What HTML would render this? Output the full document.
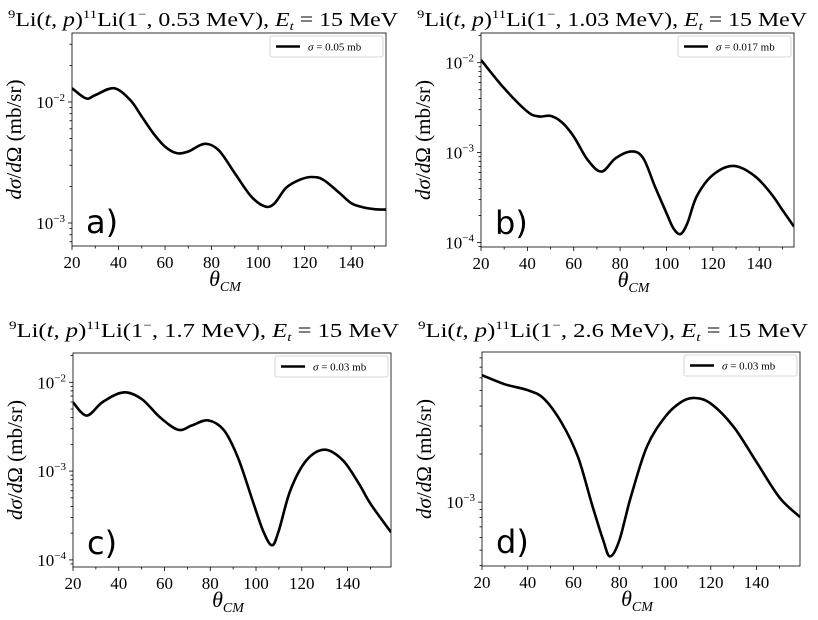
<!DOCTYPE html>
<html><head><meta charset="utf-8"><style>
body{margin:0;background:#fff}
svg{display:block}
text{font-family:"Liberation Serif",serif;fill:#000}
</style></head><body>
<svg id="fig" width="818" height="620" viewBox="0 0 818 620" xmlns="http://www.w3.org/2000/svg"></svg>
<script>
// Panel a data
const thetaA = [20,26,30,38,45,50,55,60,65,70,77,83,90,97,103,107,112,118,123,128,135,140,145,150,155];
const sigmaA = [0.0130,0.0107,0.0114,0.0130,0.0104,0.00757,0.0055,0.00428,0.00378,0.0039,0.00451,0.0040,0.00258,0.00166,0.00137,0.00145,0.00195,0.00228,0.0024,0.00228,0.00177,0.00146,0.00135,0.0013,0.00129];
// Panel b data
const thetaB = [20,30,40,45,50,55,60,66,72,78,85,90,95,100,103,106,109,113,120,129,138,145,150,155];
const sigmaB = [0.0107,0.00519,0.00286,0.00252,0.00256,0.00216,0.00151,0.00083,0.000615,0.000865,0.00103,0.000865,0.00042,0.000212,0.000144,0.000124,0.000163,0.000324,0.000565,0.000711,0.00055,0.000353,0.00023,0.00015];
// Panel c data
const thetaC = [20,26,33,42,50,58,66,72,79,86,92,98,103,107,110,115,122,130,138,145,150,159];
const sigmaC = [0.00595,0.00422,0.0060,0.0077,0.0065,0.00404,0.00292,0.00327,0.00372,0.00288,0.00144,0.00051,0.000215,0.000146,0.000215,0.000605,0.00132,0.00174,0.00132,0.00072,0.00043,0.000205];
// Panel d data
const thetaD = [20,30,40,47,55,62,68,73,76,80,85,92,100,107,113,120,130,140,150,159];
const sigmaD = [0.00623,0.00547,0.00502,0.00445,0.0031,0.00191,0.000976,0.000575,0.000457,0.000575,0.00107,0.00221,0.00341,0.00423,0.00449,0.00414,0.00296,0.00178,0.00107,0.000806];
// Tick values
const xTicks = [20,40,60,80,100,120,140];
const titlesE = ["0.53","1.03","1.7","2.6"];
const legendSig = ["0.05","0.017","0.03","0.03"];
const letters = ["a)","b)","c)","d)"];

const NS="http://www.w3.org/2000/svg";
const fig=document.getElementById('fig');
function mk(tag,attrs,parent){const e=document.createElementNS(NS,tag);for(const k in attrs)e.setAttribute(k,attrs[k]);(parent||fig).appendChild(e);return e;}

const panels=[
 {x0:72,x1:386,y0:33,y1:246,xmin:20,xmax:155,lmin:-3.19,lmax:-1.43,t:thetaA,s:sigmaA,dec:[-3,-2],tb:26},
 {x0:481,x1:794,y0:33,y1:247,xmin:20,xmax:155,lmin:-4.05,lmax:-1.67,t:thetaB,s:sigmaB,dec:[-4,-3,-2],tb:26},
 {x0:73,x1:391,y0:353,y1:567,xmin:20,xmax:159,lmin:-4.08,lmax:-1.67,t:thetaC,s:sigmaC,dec:[-4,-3,-2],tb:337},
 {x0:482,x1:800,y0:352,y1:566,xmin:20,xmax:159,lmin:-3.40,lmax:-2.06,t:thetaD,s:sigmaD,dec:[-3],tb:337}
];
const names=['a','b','c','d'];
panels.forEach((p,i)=>{
  const g=mk('g',{});
  
  
  const X=v=>p.x0+(v-p.xmin)/(p.xmax-p.xmin)*(p.x1-p.x0);
  const Y=v=>p.y1-(Math.log10(v)-p.lmin)/(p.lmax-p.lmin)*(p.y1-p.y0);
  const cx=(p.x0+p.x1)/2;
  // title
  const t=mk('text',{x:p.x0-64,y:p.tb,'font-size':19.5,textLength:390,lengthAdjust:'spacingAndGlyphs'},g);
  
  
  t.innerHTML='<tspan font-size="12" dy="-8">9</tspan><tspan dy="8">Li(</tspan><tspan font-style="italic">t, p</tspan><tspan>)</tspan><tspan font-size="12" dy="-8">11</tspan><tspan dy="8">Li(1</tspan><tspan font-size="12" dy="-8">−</tspan><tspan dy="8">, '+titlesE[i]+' MeV), </tspan><tspan font-style="italic">E</tspan><tspan font-style="italic" font-size="12" dy="4">t</tspan><tspan dy="-4"> = 15 MeV</tspan>';
  // clip
  const cid='clip'+i;
  const cp=mk('clipPath',{id:cid},g);mk('rect',{x:p.x0,y:p.y0,width:p.x1-p.x0,height:p.y1-p.y0},cp);
  // curve (Catmull-Rom)
  const pts=p.t.map((v,k)=>[X(v),Y(p.s[k])]);
  let d='M'+pts[0][0].toFixed(1)+','+pts[0][1].toFixed(1);
  for(let k=0;k<pts.length-1;k++){
    const p0=pts[Math.max(0,k-1)],p1=pts[k],p2=pts[k+1],p3=pts[Math.min(pts.length-1,k+2)];
    const c1=[p1[0]+(p2[0]-p0[0])/6,p1[1]+(p2[1]-p0[1])/6],c2=[p2[0]-(p3[0]-p1[0])/6,p2[1]-(p3[1]-p1[1])/6];
    d+='C'+c1.map(n=>n.toFixed(1)).join(',')+' '+c2.map(n=>n.toFixed(1)).join(',')+' '+p2.map(n=>n.toFixed(1)).join(',');
  }
  const cur=mk('path',{d:d,fill:'none',stroke:'#000','stroke-width':2.6,'clip-path':'url(#'+cid+')','stroke-linejoin':'round'},g);
  
  
  // frame
  const fr=mk('rect',{x:p.x0,y:p.y0,width:p.x1-p.x0,height:p.y1-p.y0,fill:'none',stroke:'#000','stroke-width':0.8},g);
  
  
  // x ticks
  for(let v=20;v<=p.xmax;v+=10){
    const major=xTicks.includes(v);
    mk('line',{x1:X(v),x2:X(v),y1:p.y1,y2:p.y1+(major?4:2.5),stroke:'#000','stroke-width':0.8},g);
  }
  xTicks.forEach(v=>{
    const tl=mk('text',{x:X(v),y:p.y1+22,'text-anchor':'middle','font-size':17},g);
    
    
    tl.textContent=v;
  });
  // y ticks
  for(let e=Math.floor(p.lmin);e<=Math.ceil(p.lmax);e++){
    for(let m=1;m<=9;m++){
      const lv=e+Math.log10(m);
      if(lv<p.lmin||lv>p.lmax)continue;
      const yy=Y(Math.pow(10,lv));
      mk('line',{x1:p.x0,x2:p.x0-(m===1?4:2.5),y1:yy,y2:yy,stroke:'#000','stroke-width':0.8},g);
    }
  }
  p.dec.forEach(e=>{
    const yy=Y(Math.pow(10,e));
    const tl=mk('text',{x:p.x0-7,y:yy+6,'text-anchor':'end','font-size':17},g);
    
    
    tl.innerHTML='10<tspan font-size="11" dy="-7">−'+(-e)+'</tspan>';
  });
  // x label
  const xl=mk('text',{x:cx-4,y:p.y1+40,'text-anchor':'middle','font-size':22,'font-style':'italic'},g);
  
  
  xl.innerHTML='θ<tspan font-size="14" dy="5">CM</tspan>';
  // y label
  const ym=(p.y0+p.y1)/2;
  const yl=mk('text',{x:0,y:0,'text-anchor':'middle','font-size':21,transform:'translate('+(p.x0-51)+','+ym+') rotate(-90)'},g);
  
  
  yl.innerHTML='<tspan font-style="italic">dσ</tspan>/<tspan font-style="italic">d</tspan>Ω (mb/sr)';
  // legend
  const lg=mk('g',{},g);
  
  
  const lw=113,lx=p.x1-lw-3;
  mk('rect',{x:lx,y:p.y0+3,width:lw,height:21,fill:'#fff',stroke:'#ccc','stroke-width':0.8,rx:2},lg);
  mk('line',{x1:lx+6,x2:lx+30,y1:p.y0+13.5,y2:p.y0+13.5,stroke:'#000','stroke-width':2.6},lg);
  const lt=mk('text',{x:lx+38,y:p.y0+17.5,'font-size':11},lg);
  
  
  lt.innerHTML='<tspan font-style="italic">σ</tspan> = '+legendSig[i]+' mb';
  // panel letter
  const pl=mk('text',{x:p.x0+14,y:p.y1-13,'font-size':32,style:'font-family:"DejaVu Sans","Liberation Sans",sans-serif'},g);
  
  
  pl.textContent=letters[i];
});
</script>
</body></html>
